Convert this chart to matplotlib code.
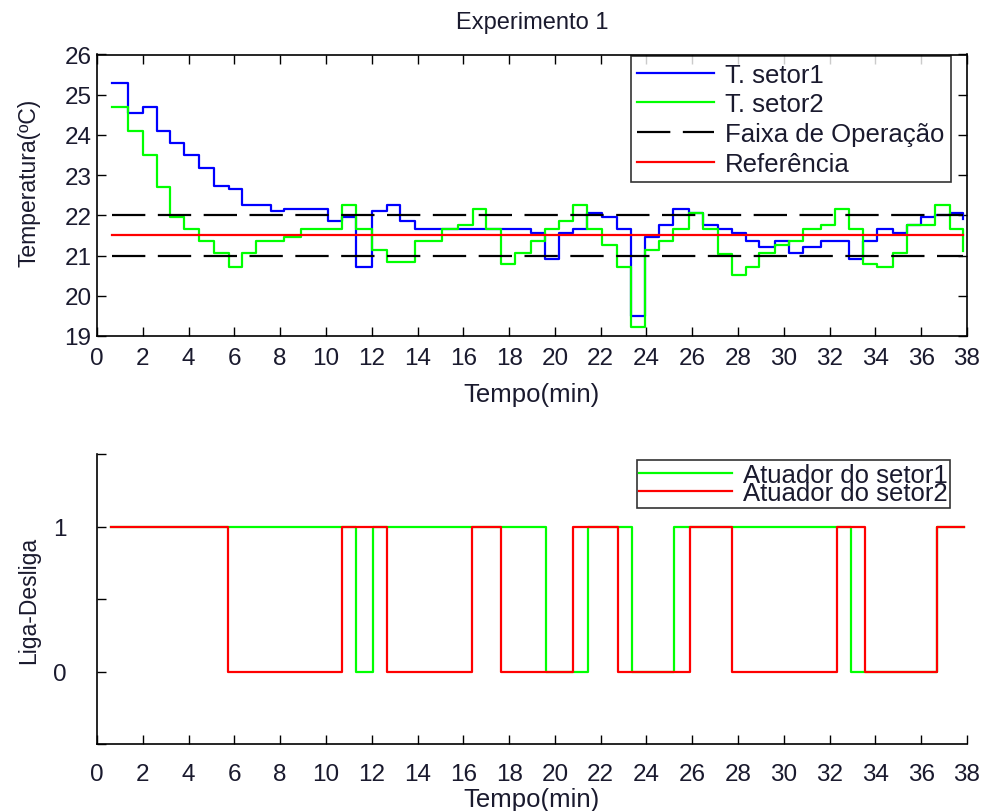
import matplotlib
matplotlib.use("Agg")
import matplotlib.pyplot as plt
from matplotlib.ticker import MultipleLocator

plt.rcParams["font.family"] = ["Liberation Sans", "DejaVu Sans"]
plt.rcParams["font.size"] = 16

# instantes de amostragem (min)
tempo = [0.65, 1.37, 2.0, 2.6, 3.21, 3.82, 4.44, 5.13, 5.75, 6.34, 6.96, 7.59, 8.18, 8.9,
         10.1, 10.72, 11.31, 12.03, 12.65, 13.25, 13.88, 15.08, 15.78, 16.41, 16.98, 17.63,
         18.26, 18.94, 19.56, 20.18, 20.8, 21.39, 22.04, 22.7, 23.34, 23.93, 24.55, 25.14,
         25.87, 26.48, 27.11, 27.72, 28.33, 28.93, 29.61, 30.24, 30.85, 31.62, 32.23, 32.85,
         33.47, 34.08, 34.78, 35.36, 35.99, 36.6, 37.25, 37.83]

t_setor1 = [25.29, 24.54, 24.69, 24.10, 23.79, 23.49, 23.19, 22.74, 22.65, 22.26, 22.26, 22.11,
            22.15, 22.15, 21.85, 21.95, 20.71, 22.10, 22.26, 21.85, 21.65, 21.65, 21.65, 21.65,
            21.65, 21.65, 21.65, 21.55, 20.91, 21.55, 21.65, 22.05, 21.95, 21.65, 19.50, 21.45,
            21.75, 22.15, 22.05, 21.75, 21.65, 21.55, 21.36, 21.21, 21.36, 21.06, 21.21, 21.36,
            21.36, 20.91, 21.36, 21.65, 21.55, 21.75, 21.95, 22.00, 22.05, 21.90]

t_setor2 = [24.69, 24.10, 23.49, 22.70, 21.96, 21.65, 21.35, 21.06, 20.71, 21.06, 21.35, 21.35,
            21.45, 21.65, 21.65, 22.26, 21.65, 21.14, 20.83, 20.83, 21.36, 21.65, 21.75, 22.15,
            21.65, 20.80, 21.06, 21.36, 21.65, 21.86, 22.26, 21.65, 21.26, 20.71, 19.23, 21.14,
            21.36, 21.65, 22.05, 21.65, 21.04, 20.51, 20.71, 21.06, 21.26, 21.36, 21.65, 21.75,
            22.15, 21.65, 20.80, 20.71, 21.06, 21.75, 21.75, 22.26, 21.65, 21.11]

faixa = [21.0, 22.0]
referencia = 21.5

# atuadores (liga/desliga)
tempo_at1 = [0.6, 11.3, 12.04, 19.59, 21.44, 23.36, 25.21, 32.92, 36.71, 37.87]
atuador1 = [1, 0, 1, 0, 1, 0, 1, 0, 1, 1]
tempo_at2 = [0.6, 5.71, 10.7, 12.65, 16.4, 17.65, 20.8, 22.76, 25.9, 27.74, 32.31, 33.54, 36.71, 37.87]
atuador2 = [1, 0, 1, 0, 1, 0, 1, 0, 1, 0, 1, 0, 1, 1]

W, H = 983, 812
fig = plt.figure(figsize=(W / 100, H / 100), dpi=100)

LW = 1.6
TXT = "#1a1a2e"
FS_TICK = 17.5
FS_LABEL = 18.5
FS_TITLE = 17
FS_LEG = 18.5
FS_YLAB = 16.5


def axes_px(left, top, right, bottom):
    return fig.add_axes([left / W, 1 - bottom / H, (right - left) / W, (bottom - top) / H])


def fy(py):
    return 1 - py / H


# ---- temperatura ----
ax1 = axes_px(97, 55.5, 967, 337)
ax1.step(tempo, t_setor1, where="post", color="#0000ff", lw=LW, label="T. setor1")
ax1.step(tempo, t_setor2, where="post", color="#00ff00", lw=LW, label="T. setor2")
dash = (0, (24 / LW, 9 / LW))
ax1.plot([tempo[0], tempo[-1]], [faixa[1], faixa[1]], color="black", lw=LW, linestyle=dash,
         label="Faixa de Operação")
ax1.plot([tempo[0], tempo[-1]], [faixa[0], faixa[0]], color="black", lw=LW, linestyle=dash)
ax1.plot([tempo[0], tempo[-1]], [referencia, referencia], color="#ff0000", lw=LW,
         label="Referência")
ax1.set_xlim(0, 38)
ax1.set_ylim(19, 26)
ax1.xaxis.set_major_locator(MultipleLocator(2))
ax1.yaxis.set_major_locator(MultipleLocator(1))
ax1.tick_params(direction="in", top=True, right=True, length=6.5, width=1,
                labelsize=FS_TICK, labelcolor=TXT)
ax1.tick_params(axis="x", pad=8)
ax1.tick_params(axis="y", pad=4)
for s in ax1.spines.values():
    s.set_linewidth(1.2)
ax1.set_title("Experimento 1", fontsize=FS_TITLE, color=TXT, va="center", pad=0,
              y=1 + (55.5 - 23) / (337 - 55.5))
ax1.set_xlabel("Tempo(min)", fontsize=FS_LABEL, color=TXT)
ax1.xaxis.set_label_coords(532 / W, fy(395), transform=fig.transFigure)
ax1.xaxis.label.set_va("center")
ax1.set_ylabel("Temperatura(ºC)", fontsize=FS_YLAB, color=TXT)
ax1.yaxis.set_label_coords(29 / W, fy(183), transform=fig.transFigure)
ax1.yaxis.label.set_va("center")
leg1 = ax1.legend(loc="upper right", bbox_to_anchor=(951 / W, fy(57.3)),
                  bbox_transform=fig.transFigure, fontsize=FS_LEG, frameon=True, fancybox=False,
                  edgecolor="black", handlelength=3.0, handletextpad=0.43, labelspacing=0.22,
                  borderpad=0.25, borderaxespad=0)
leg1.get_frame().set_linewidth(1.2)
for txt in leg1.get_texts():
    txt.set_color(TXT)

# ---- atuadores ----
ax2 = axes_px(97, 455, 967, 745)
ax2.step(tempo_at1, atuador1, where="post", color="#00ff00", lw=LW, label="Atuador do setor1")
ax2.step(tempo_at2, atuador2, where="post", color="#ff0000", lw=LW, label="Atuador do setor2")
ax2.set_xlim(0, 38)
ax2.set_ylim(-0.5, 1.5)
ax2.xaxis.set_major_locator(MultipleLocator(2))
ax2.set_yticks([-0.5, 0, 0.5, 1, 1.5])
ax2.set_yticklabels(["", "0", "", "1", ""])
ax2.spines["top"].set_visible(False)
ax2.spines["right"].set_visible(False)
for s in ax2.spines.values():
    s.set_linewidth(1.2)
ax2.tick_params(direction="in", length=6.5, width=1, labelsize=FS_TICK, labelcolor=TXT)
ax2.tick_params(axis="x", pad=13.5)
ax2.tick_params(axis="y", pad=22)
ax2.set_xlabel("Tempo(min)", fontsize=FS_LABEL, color=TXT)
ax2.xaxis.set_label_coords(532 / W, fy(800), transform=fig.transFigure)
ax2.xaxis.label.set_va("center")
ax2.set_ylabel("Liga-Desliga", fontsize=FS_YLAB, color=TXT)
ax2.yaxis.set_label_coords(29 / W, fy(600), transform=fig.transFigure)
ax2.yaxis.label.set_va("center")
leg2 = ax2.legend(loc="upper right", bbox_to_anchor=(950 / W, fy(461)),
                  bbox_transform=fig.transFigure, fontsize=FS_LEG, frameon=True, fancybox=False,
                  edgecolor="black", handlelength=3.6, handletextpad=0.43, labelspacing=-0.21,
                  borderpad=0.1, borderaxespad=0)
leg2.get_frame().set_linewidth(1.2)
for txt in leg2.get_texts():
    txt.set_color(TXT)

fig.savefig("out.png", dpi=100)
